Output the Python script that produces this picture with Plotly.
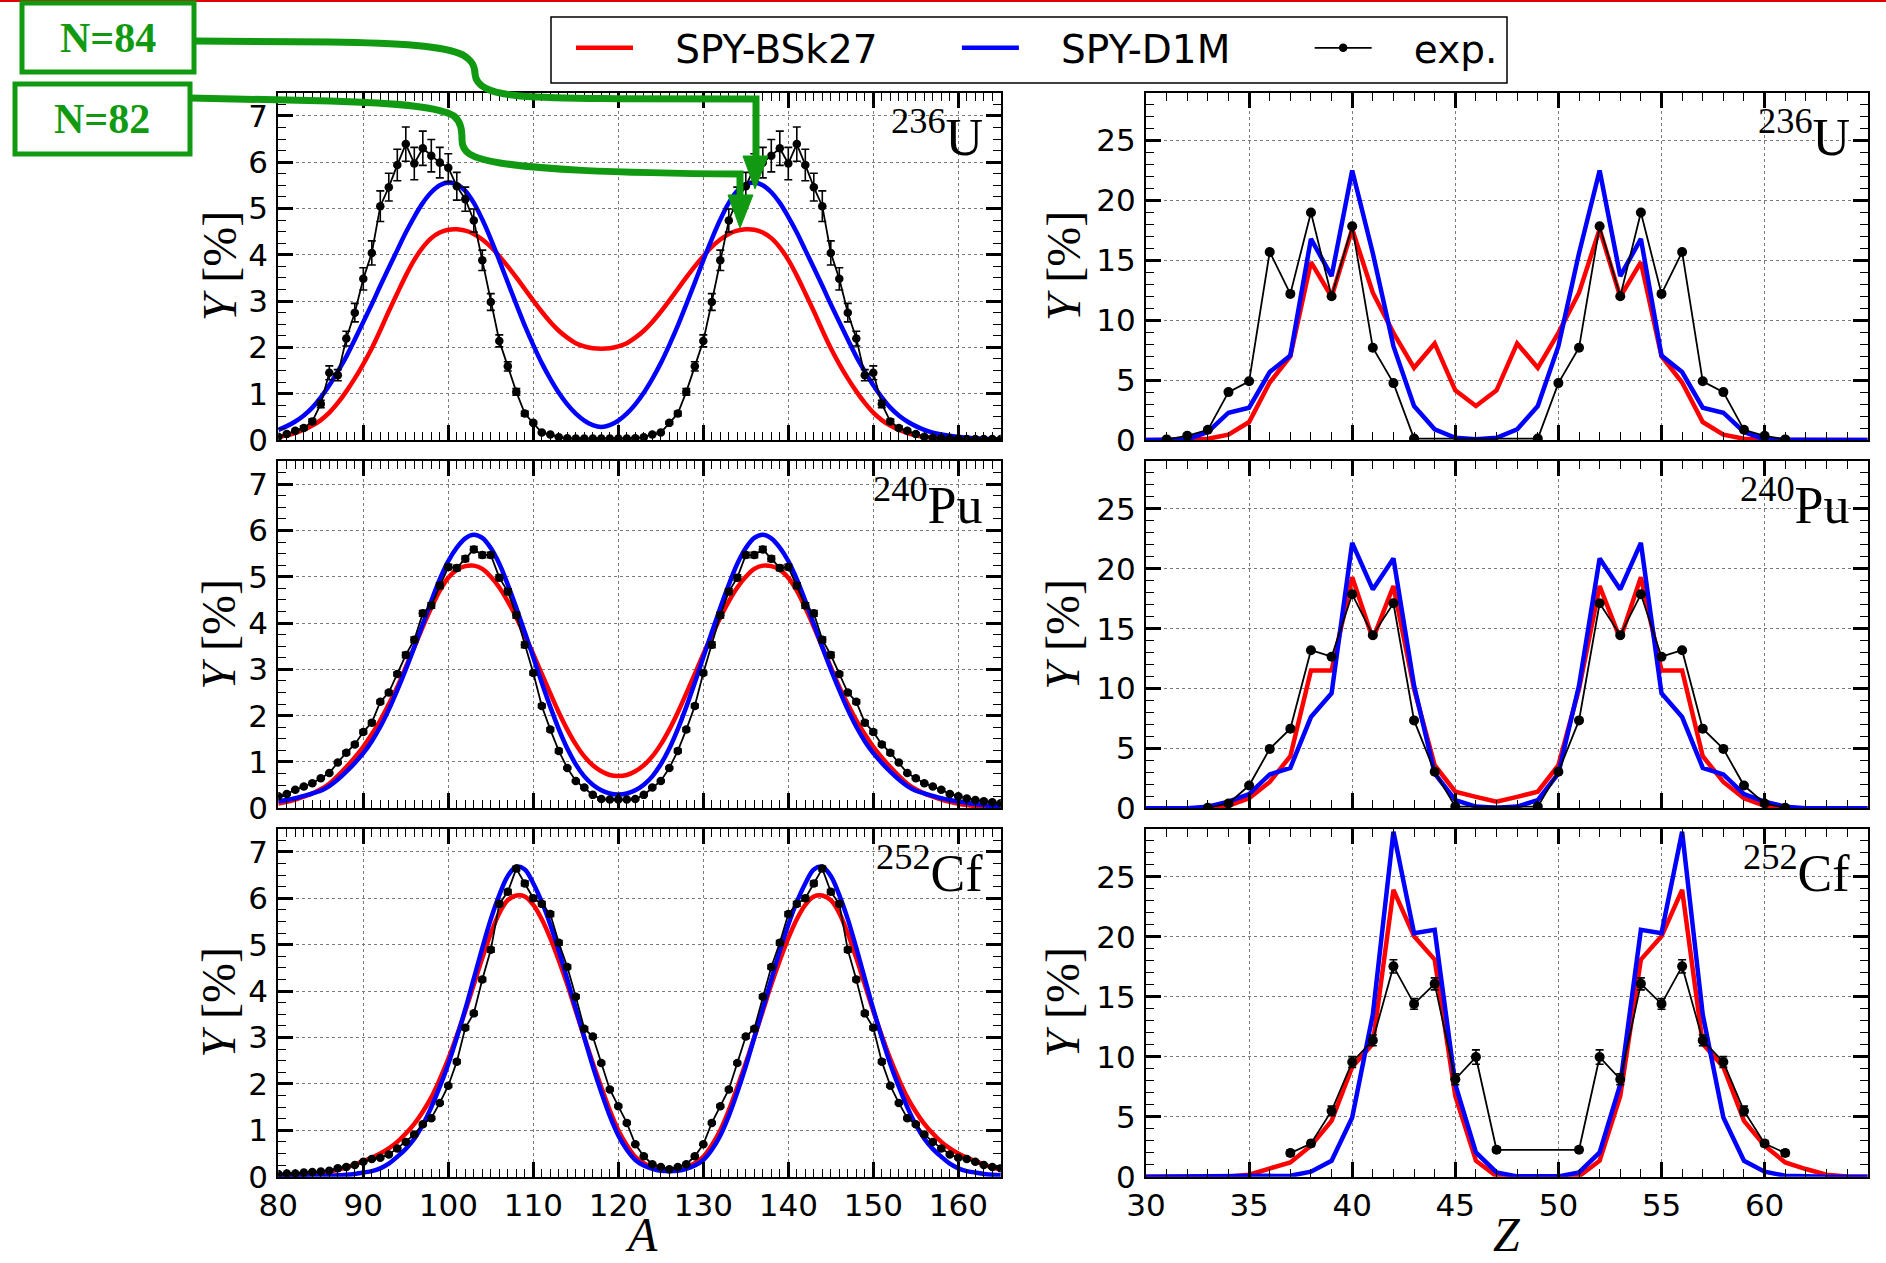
import plotly.graph_objects as go

W, H = 1886, 1263

# ---------------- data ----------------
A_vals = list(range(80, 166))
Z_vals = list(range(30, 66))

# 236U  mass yields
u236_A_bsk27 = [0.07,0.10,0.15,0.22,0.31,0.43,0.59,0.80,1.05,1.33,1.64,1.98,2.37,2.78,3.17,3.55,3.89,4.16,4.36,4.48,4.54,4.55,4.52,4.45,4.33,4.17,3.97,3.75,3.51,3.26,3.01,2.77,2.55,2.36,2.21,2.09,2.02,1.98,1.97,
                1.98,2.02,2.09,2.21,2.36,2.55,2.77,3.01,3.26,3.51,3.75,3.97,4.17,4.33,4.45,4.52,4.55,4.54,4.48,4.36,4.16,3.89,3.55,3.17,2.78,2.37,1.98,1.64,1.33,1.05,0.80,0.59,0.43,0.31,0.22,0.15,0.10,0.07,
                0.05,0.035,0.025,0.017,0.012,0.008,0.005,0.003,0.002]
u236_A_d1m = [0.22,0.30,0.40,0.53,0.70,0.92,1.18,1.48,1.80,2.17,2.55,2.93,3.33,3.72,4.10,4.48,4.82,5.12,5.35,5.50,5.56,5.52,5.38,5.12,4.76,4.34,3.88,3.40,2.93,2.47,2.05,1.66,1.32,1.02,0.77,0.57,0.42,0.32,0.28,
              0.32,0.42,0.57,0.77,1.02,1.32,1.66,2.05,2.47,2.93,3.40,3.88,4.34,4.76,5.12,5.38,5.52,5.56,5.50,5.35,5.12,4.82,4.48,4.10,3.72,3.33,2.93,2.55,2.17,1.80,1.48,1.18,0.92,0.70,0.53,0.40,0.30,0.22,
              0.16,0.12,0.09,0.065,0.048,0.035,0.025,0.018,0.013]
u236_A_exp = [0.07,0.13,0.20,0.26,0.40,0.78,1.45,1.40,2.19,2.75,3.48,4.04,5.05,5.46,5.94,6.39,5.97,6.30,6.14,5.99,5.88,5.48,5.20,4.74,3.88,2.98,2.14,1.59,1.04,0.57,0.37,0.16,0.12,0.06,0.04,0.03,0.03,0.03,0.03,
              0.03,0.03,0.03,0.04,0.06,0.12,0.16,0.37,0.57,1.04,1.59,2.14,2.98,3.88,4.74,5.20,5.48,5.88,5.99,6.14,6.30,5.97,6.39,5.94,5.46,5.05,4.04,3.48,2.75,2.19,1.40,1.45,0.78,0.40,0.26,0.20,0.13,0.07,
              0.05,0.04,0.03,0.03,0.02,0.02,0.02,0.02,0.02]
u236_A_err = [0.02,0.02,0.03,0.04,0.05,0.08,0.15,0.12,0.16,0.20,0.24,0.26,0.33,0.30,0.34,0.37,0.35,0.37,0.35,0.33,0.30,0.30,0.26,0.25,0.22,0.18,0.13,0.10,0.07,0.05,0.03,0.02,0.01,0.01,0.01,0.01,0.01,0.01,0.01,
              0.01,0.01,0.01,0.01,0.01,0.01,0.02,0.03,0.05,0.07,0.10,0.13,0.18,0.22,0.25,0.26,0.30,0.30,0.33,0.35,0.37,0.35,0.37,0.34,0.30,0.33,0.26,0.24,0.20,0.16,0.12,0.15,0.08,0.05,0.04,0.03,0.02,0.02,
              0.01,0.01,0.01,0.01,0.01,0.01,0.01,0.01,0.01]

# 240Pu mass yields
pu240_A_bsk27 = [0.10,0.14,0.19,0.25,0.32,0.41,0.53,0.70,0.89,1.10,1.33,1.60,1.90,2.25,2.62,3.05,3.48,3.92,4.33,4.70,4.98,5.15,5.23,5.24,5.17,5.00,4.77,4.47,4.12,3.73,3.33,2.90,2.48,2.07,1.70,1.38,1.12,0.93,0.80,0.72,0.70,
                 0.72,0.80,0.93,1.12,1.38,1.70,2.07,2.48,2.90,3.33,3.73,4.12,4.47,4.77,5.00,5.17,5.24,5.23,5.15,4.98,4.70,4.33,3.92,3.48,3.05,2.62,2.25,1.90,1.60,1.33,1.10,0.89,0.70,0.53,0.41,0.32,0.25,0.19,0.14,0.10,
                 0.07,0.05,0.035,0.025,0.018]
pu240_A_d1m = [0.15,0.18,0.22,0.27,0.32,0.38,0.48,0.62,0.79,0.98,1.19,1.45,1.76,2.13,2.55,3.00,3.48,3.98,4.48,4.95,5.34,5.63,5.83,5.91,5.84,5.62,5.28,4.83,4.33,3.80,3.26,2.71,2.19,1.71,1.29,0.95,0.69,0.51,0.39,0.32,0.30,
               0.32,0.39,0.51,0.69,0.95,1.29,1.71,2.19,2.71,3.26,3.80,4.33,4.83,5.28,5.62,5.84,5.91,5.83,5.63,5.34,4.95,4.48,3.98,3.48,3.00,2.55,2.13,1.76,1.45,1.19,0.98,0.79,0.62,0.48,0.38,0.32,0.27,0.22,0.18,0.15,
               0.12,0.09,0.07,0.05,0.04]
pu240_A_exp = [0.26,0.31,0.40,0.47,0.54,0.65,0.76,0.99,1.20,1.38,1.65,1.85,2.30,2.50,2.90,3.31,3.64,4.21,4.38,4.81,5.21,5.19,5.39,5.59,5.47,5.47,4.98,4.68,4.17,3.53,2.92,2.21,1.70,1.24,0.87,0.59,0.45,0.29,0.20,0.19,0.19,
               0.19,0.20,0.29,0.45,0.59,0.87,1.24,1.70,2.21,2.92,3.53,4.17,4.68,4.98,5.47,5.47,5.59,5.39,5.19,5.21,4.81,4.38,4.21,3.64,3.31,2.90,2.50,2.30,1.85,1.65,1.38,1.20,0.99,0.76,0.65,0.54,0.47,0.40,0.31,0.26,
               0.21,0.18,0.15,0.13,0.11]
pu240_A_err = [0.02,0.02,0.02,0.02,0.02,0.02,0.02,0.02,0.04,0.04,0.04,0.04,0.04,0.04,0.04,0.06,0.06,0.06,0.06,0.06,0.06,0.06,0.06,0.06,0.06,0.06,0.06,0.06,0.06,0.06,0.04,0.04,0.04,0.04,0.02,0.02,0.02,0.02,0.02,0.02,0.02,
               0.02,0.02,0.02,0.02,0.02,0.02,0.04,0.04,0.04,0.04,0.06,0.06,0.06,0.06,0.06,0.06,0.06,0.06,0.06,0.06,0.06,0.06,0.06,0.06,0.06,0.04,0.04,0.04,0.04,0.04,0.04,0.04,0.02,0.02,0.02,0.02,0.02,0.02,0.02,0.02,
               0.02,0.02,0.02,0.02,0.02]

# 252Cf mass yields
cf252_A_bsk27 = [0.01,0.02,0.03,0.04,0.06,0.08,0.11,0.15,0.20,0.26,0.34,0.41,0.50,0.61,0.75,0.93,1.14,1.40,1.71,2.10,2.54,3.04,3.57,4.14,4.71,5.24,5.68,5.96,6.06,6.04,5.86,5.55,5.14,4.66,4.14,3.57,3.00,2.45,1.93,1.43,1.00,0.68,0.43,0.29,0.20,0.16,0.14,
                 0.16,0.20,0.29,0.43,0.68,1.00,1.43,1.93,2.45,3.00,3.57,4.14,4.66,5.14,5.55,5.86,6.04,6.06,5.96,5.68,5.24,4.71,4.14,3.57,3.04,2.54,2.10,1.71,1.40,1.14,0.93,0.75,0.61,0.50,0.41,0.34,0.26,0.20,0.15]
cf252_A_d1m = [0.00,0.00,0.01,0.01,0.01,0.02,0.02,0.03,0.04,0.06,0.09,0.12,0.18,0.28,0.43,0.60,0.82,1.12,1.50,1.94,2.43,3.00,3.61,4.27,4.93,5.55,6.07,6.48,6.68,6.62,6.32,5.92,5.43,4.87,4.25,3.62,3.00,2.38,1.82,1.31,0.89,0.58,0.36,0.24,0.17,0.13,0.12,
               0.13,0.17,0.24,0.36,0.58,0.89,1.31,1.82,2.38,3.00,3.62,4.25,4.87,5.43,5.92,6.32,6.62,6.68,6.48,6.07,5.55,4.93,4.27,3.61,3.00,2.43,1.94,1.50,1.12,0.82,0.60,0.43,0.28,0.18,0.12,0.09,0.06,0.04,0.03]
cf252_A_exp = [0.06,0.07,0.07,0.09,0.10,0.11,0.13,0.18,0.21,0.25,0.32,0.38,0.41,0.48,0.61,0.75,0.91,1.13,1.26,1.59,1.96,2.48,3.21,3.52,4.25,4.89,5.88,6.14,6.64,6.32,6.00,5.88,5.66,5.04,4.52,3.88,3.19,3.02,2.45,1.88,1.52,1.16,0.70,0.44,0.27,0.21,0.16,
               0.21,0.27,0.44,0.70,1.16,1.52,1.88,2.45,3.02,3.19,3.88,4.52,5.04,5.66,5.88,6.00,6.32,6.64,6.14,5.88,4.89,4.25,3.52,3.21,2.48,1.96,1.59,1.26,1.13,0.91,0.75,0.61,0.48,0.41,0.38,0.32,0.25,0.21,0.18]
cf252_A_err = [0.01,0.01,0.01,0.01,0.01,0.01,0.01,0.02,0.02,0.02,0.02,0.02,0.02,0.02,0.02,0.03,0.03,0.03,0.03,0.03,0.03,0.04,0.04,0.04,0.04,0.05,0.05,0.05,0.05,0.05,0.05,0.05,0.05,0.05,0.04,0.04,0.04,0.04,0.03,0.03,0.03,0.03,0.02,0.02,0.02,0.02,0.02,
               0.02,0.02,0.02,0.02,0.03,0.03,0.03,0.03,0.04,0.04,0.04,0.04,0.05,0.05,0.05,0.05,0.05,0.05,0.05,0.05,0.05,0.04,0.04,0.04,0.04,0.03,0.03,0.03,0.03,0.03,0.03,0.02,0.02,0.02,0.02,0.02,0.02,0.02,0.02]

# charge yields
u236_Z_bsk27 = [0,0,0,0.10,0.45,1.5,4.8,7.0,14.85,11.96,17.6,12.3,8.95,6.03,8.06,4.14,2.84,
                4.14,8.06,6.03,8.95,12.3,17.6,11.96,14.85,7.0,4.8,1.5,0.45,0.10,0,0,0,0,0,0]
u236_Z_d1m = [0,0.02,0.05,0.67,2.28,2.7,5.67,7.06,16.8,13.68,22.5,15.6,7.84,2.84,0.89,0.19,0.06,
              0.19,0.89,2.84,7.84,15.6,22.5,13.68,16.8,7.06,5.67,2.7,2.28,0.67,0.05,0.02,0,0,0,0]
u236_Z_exp = [None,0.05,0.35,0.85,4.0,4.9,15.7,12.2,19.0,12.0,17.85,7.7,4.75,0.12,None,None,None,None,None,0.12,
              4.75,7.7,17.85,12.0,19.0,12.2,15.7,4.9,4.0,0.85,0.35,0.05,None,None,None,None]

pu240_Z_bsk27 = [0,0,0,0,0.2,0.83,2.2,4.35,11.5,11.5,19.3,14.13,18.56,9.97,3.6,1.39,0.95,0.55,
                 0.95,1.39,3.6,9.97,18.56,14.13,19.3,11.5,11.5,4.35,2.2,0.83,0.2,0,0,0,0,0]
pu240_Z_d1m = [0,0,0,0.14,0.55,1.19,2.83,3.38,7.62,9.61,22.16,18.28,20.86,10.25,2.91,0.69,0.14,0.05,
               0.14,0.69,2.91,10.25,20.86,18.28,22.16,9.61,7.62,3.38,2.83,1.19,0.55,0.14,0,0,0,0]
pu240_Z_exp = [None,None,None,0.05,0.4,1.9,4.96,6.65,13.2,12.66,17.87,14.46,17.12,7.34,3.05,0.14,None,None,None,0.14,
               3.05,7.34,17.12,14.46,17.87,12.66,13.2,6.65,4.96,1.9,0.4,0.05,None,None,None,None]

cf252_Z_bsk27 = [0,0,0,0,0.02,0.17,0.64,1.19,2.58,4.65,9.14,11.08,23.9,20.03,18.09,6.73,1.33,0.03,0,0,
                 0,0.03,1.33,6.73,18.09,20.03,23.9,11.08,9.14,4.65,2.58,1.19,0.64,0.17,0.02,0]
cf252_Z_d1m = [0,0,0,0,0,0,0,0.08,0.42,1.33,4.93,13.52,28.75,20.3,20.58,7.7,2.02,0.36,0.03,0,
               0.03,0.36,2.02,7.7,20.58,20.3,28.75,13.52,4.93,1.33,0.42,0.08,0,0,0,0]
cf252_Z_exp = [None,None,None,None,None,None,None,1.97,2.77,5.48,9.56,11.36,17.53,14.4,16.07,8.12,9.97,2.24,None,None,
               None,2.24,9.97,8.12,16.07,14.4,17.53,11.36,9.56,5.48,2.77,1.97,None,None,None,None]
cf252_Z_err = [None,None,None,None,None,None,None,0.25,0.25,0.4,0.45,0.45,0.55,0.45,0.5,0.45,0.6,0.2,None,None,
               None,0.2,0.6,0.45,0.5,0.45,0.55,0.45,0.45,0.4,0.25,0.25,None,None,None,None]

nuclei = ["<sup>236</sup>U", "<sup>240</sup>Pu", "<sup>252</sup>Cf"]
legend_names = ["SPY-BSk27", "SPY-D1M", "exp."]

# ---------------- layout helpers ----------------
def px(x):
    return x / W

def py(y):
    return 1 - y / H

XL = (278.3, 1000.8)
XR = (1146.0, 1867.7)
ROWS = [(92.7, 440.0), (461.0, 808.3), (828.7, 1176.7)]

RED = "#ff0000"
BLUE = "#0000ff"
GREEN = "#119a11"
TICKFONT = dict(family="DejaVu Sans", size=31, color="black")
SERIF = "Liberation Serif, DejaVu Serif, serif"
NB = "\u00a0"

def legend_label(name):
    # pad the label so the entries sit where the reference places them
    return NB * 3 + name + NB * 6

fig = go.Figure()

panels = [
    (0, 0, A_vals, u236_A_bsk27, u236_A_d1m, u236_A_exp, u236_A_err, nuclei[0]),
    (0, 1, Z_vals, u236_Z_bsk27, u236_Z_d1m, u236_Z_exp, None, nuclei[0]),
    (1, 0, A_vals, pu240_A_bsk27, pu240_A_d1m, pu240_A_exp, pu240_A_err, nuclei[1]),
    (1, 1, Z_vals, pu240_Z_bsk27, pu240_Z_d1m, pu240_Z_exp, None, nuclei[1]),
    (2, 0, A_vals, cf252_A_bsk27, cf252_A_d1m, cf252_A_exp, cf252_A_err, nuclei[2]),
    (2, 1, Z_vals, cf252_Z_bsk27, cf252_Z_d1m, cf252_Z_exp, cf252_Z_err, nuclei[2]),
]

layout_axes = {}
annotations = []

for i, (r, c, xs, red, blue, exp, err, nuc) in enumerate(panels):
    k = i + 1
    xa = "x" if k == 1 else f"x{k}"
    ya = "y" if k == 1 else f"y{k}"
    first = (k == 1)
    left = (c == 0)
    shape = "spline" if left else "linear"
    fig.add_trace(go.Scatter(x=xs, y=red, mode="lines", name=legend_label(legend_names[0]), legendgroup="bsk",
                             showlegend=first, line=dict(color=RED, width=4.5, shape=shape),
                             xaxis=xa, yaxis=ya))
    fig.add_trace(go.Scatter(x=xs, y=blue, mode="lines", name=legend_label(legend_names[1]), legendgroup="d1m",
                             showlegend=first, line=dict(color=BLUE, width=4.5, shape=shape),
                             xaxis=xa, yaxis=ya))
    ekw = {}
    if err is not None:
        ekw["error_y"] = dict(type="data", array=err, color="black", thickness=1.6, width=4, visible=True)
    fig.add_trace(go.Scatter(x=xs, y=exp, mode="lines+markers", name=legend_label(legend_names[2]), legendgroup="exp",
                             showlegend=first, connectgaps=True,
                             line=dict(color="black", width=1.8),
                             marker=dict(color="black", size=8.5 if left else 10),
                             xaxis=xa, yaxis=ya, **ekw))

    xdom = XL if left else XR
    y0, y1 = ROWS[r]
    common = dict(showline=True, linecolor="black", linewidth=2, mirror="allticks",
                  ticks="inside", ticklen=15, tickwidth=2.5, tickcolor="black",
                  showgrid=True, gridcolor="#7a7a7a", griddash="dot", gridwidth=1.2,
                  zeroline=False, tickfont=TICKFONT, fixedrange=True, automargin=False)
    xaxis = dict(common, domain=[px(xdom[0]), px(xdom[1])], anchor=ya,
                 showticklabels=(r == 2))
    minor_x = dict(ticks="inside", ticklen=8, tickwidth=1.4, tickcolor="black", dtick=1, showgrid=False)
    if left:
        xaxis.update(range=[80, 165], tick0=80, dtick=10, minor=minor_x)
    else:
        xaxis.update(range=[30, 65], tick0=30, dtick=5, minor=minor_x)
    yaxis = dict(common, domain=[py(y1), py(y0)], anchor=xa, ticklabelstandoff=2)
    if left:
        yaxis.update(range=[0, 7.5], tick0=0, dtick=1,
                     minor=dict(ticks="inside", ticklen=8, tickwidth=1.4, tickcolor="black", dtick=0.25, showgrid=False))
    else:
        yaxis.update(range=[0, 29], tick0=0, dtick=5,
                     minor=dict(ticks="inside", ticklen=8, tickwidth=1.4, tickcolor="black", dtick=1, showgrid=False))
    layout_axes["xaxis" if k == 1 else f"xaxis{k}"] = xaxis
    layout_axes["yaxis" if k == 1 else f"yaxis{k}"] = yaxis

    annotations.append(dict(text=nuc, xref="paper", yref="paper",
                            x=px(xdom[1] - 16), y=py(y0 + 6), xanchor="right", yanchor="top",
                            showarrow=False, font=dict(family=SERIF, size=52, color="black")))
    annotations.append(dict(text="<i>Y</i> [%]", xref="paper", yref="paper",
                            x=px(219 if left else 1063), y=py((y0 + y1) / 2), textangle=-90,
                            xanchor="center", yanchor="middle", showarrow=False,
                            font=dict(family=SERIF, size=48, color="black")))

# x titles
annotations.append(dict(text="<i>A</i>", xref="paper", yref="paper", x=px(641), y=0,
                        xanchor="center", yanchor="bottom", showarrow=False,
                        font=dict(family=SERIF, size=48, color="black")))
annotations.append(dict(text="<i>Z</i>", xref="paper", yref="paper", x=px(1507), y=0,
                        xanchor="center", yanchor="bottom", showarrow=False,
                        font=dict(family=SERIF, size=48, color="black")))

# N=84 / N=82 labels
annotations.append(dict(text="<b>N=84</b>", xref="paper", yref="paper", x=px(108), y=py(38),
                        xanchor="center", yanchor="middle", showarrow=False,
                        font=dict(family=SERIF, size=42, color=GREEN)))
annotations.append(dict(text="<b>N=82</b>", xref="paper", yref="paper", x=px(102), y=py(119),
                        xanchor="center", yanchor="middle", showarrow=False,
                        font=dict(family=SERIF, size=42, color=GREEN)))

def P(cmds):
    out = []
    for cmd in cmds:
        op = cmd[0]
        pts = cmd[1:]
        coords = " ".join(f"{px(pts[j]):.5f},{py(pts[j+1]):.5f}" for j in range(0, len(pts), 2))
        out.append(f"{op}{coords}")
    return " ".join(out)

shapes = []
shapes.append(dict(type="line", xref="paper", yref="paper", x0=0, x1=1, y0=py(1), y1=py(1),
                   line=dict(color="#e00000", width=2)))
# legend frame
shapes.append(dict(type="rect", xref="paper", yref="paper", x0=px(551), x1=px(1507), y0=py(83), y1=py(17),
                   line=dict(color="black", width=1.5), fillcolor="white"))
# N boxes
shapes.append(dict(type="rect", xref="paper", yref="paper", x0=px(22), x1=px(194), y0=py(72), y1=py(3),
                   line=dict(color=GREEN, width=5)))
shapes.append(dict(type="rect", xref="paper", yref="paper", x0=px(15), x1=px(190), y0=py(154), y1=py(84),
                   line=dict(color=GREEN, width=5)))
p84 = P([("M", 194, 41), ("L", 330, 42), ("C", 400, 43, 445, 46, 463, 55), ("C", 473, 61, 475, 67, 475, 74),
         ("C", 476, 86, 488, 93, 520, 96), ("C", 560, 99, 620, 99, 756, 99), ("L", 756, 160)])
shapes.append(dict(type="path", xref="paper", yref="paper", path=p84, line=dict(color=GREEN, width=7)))
shapes.append(dict(type="path", xref="paper", yref="paper",
                   path=P([("M", 743, 156), ("L", 768, 156), ("L", 755, 189)]) + " Z",
                   fillcolor=GREEN, line=dict(color=GREEN, width=1)))
p82 = P([("M", 190, 98), ("L", 330, 101), ("C", 400, 103, 440, 107, 454, 116), ("C", 461, 122, 462, 130, 462, 140),
         ("C", 462, 152, 470, 158, 500, 163), ("C", 540, 169, 600, 173, 740, 174), ("L", 740, 199)])
shapes.append(dict(type="path", xref="paper", yref="paper", path=p82, line=dict(color=GREEN, width=7)))
shapes.append(dict(type="path", xref="paper", yref="paper",
                   path=P([("M", 728, 195), ("L", 753, 195), ("L", 740, 228)]) + " Z",
                   fillcolor=GREEN, line=dict(color=GREEN, width=1)))

fig.update_layout(
    template="none",
    width=W, height=H,
    margin=dict(l=0, r=0, t=0, b=0, pad=0, autoexpand=False),
    paper_bgcolor="white", plot_bgcolor="white",
    showlegend=True,
    legend=dict(orientation="h", x=px(571), y=py(16), xanchor="left", yanchor="top",
                borderwidth=0, bgcolor="rgba(0,0,0,0)",
                font=dict(family="DejaVu Sans", size=39, color="black"),
                itemwidth=57, tracegroupgap=0),
    annotations=annotations,
    shapes=shapes,
    **layout_axes,
)

fig.write_html("out.html")
